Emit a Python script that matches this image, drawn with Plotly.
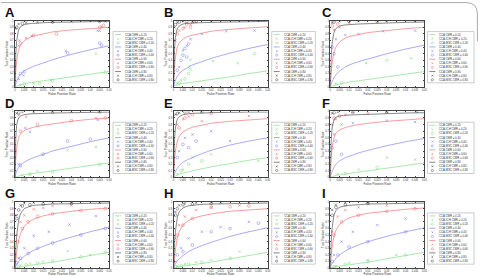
import plotly.graph_objects as go

W, H = 481, 276

# ---------------- data ----------------
FPR_GRID = [0, 0.0005, 0.001, 0.002, 0.003, 0.005, 0.0075, 0.01, 0.015, 0.02, 0.03, 0.04, 0.05]
CMR_LEVELS = ["0.20", "0.40", "0.60", "0.80"]
METHODS = ["CCA", "CCA-ICH", "CCA-MSC"]
PANEL_NAMES = ["A", "B", "C", "D", "E", "F", "G", "H", "I"]
X_TICKS = [0, 0.005, 0.01, 0.015, 0.02, 0.025, 0.03, 0.035, 0.04, 0.045, 0.05]
Y_TICKS = [0, 0.1, 0.2, 0.3, 0.4, 0.5, 0.6, 0.7, 0.8, 0.9, 1]

# CCA curves (TPR on FPR_GRID), rows: CMR 0.20, 0.40, 0.60, 0.80
A_CCA = [[0, 0.005, 0.01, 0.02, 0.03, 0.045, 0.06, 0.07, 0.09, 0.11, 0.15, 0.19, 0.23],
         [0, 0.05, 0.09, 0.15, 0.19, 0.24, 0.28, 0.31, 0.36, 0.41, 0.49, 0.56, 0.62],
         [0, 0.25, 0.40, 0.56, 0.63, 0.70, 0.74, 0.77, 0.80, 0.83, 0.86, 0.88, 0.90],
         [0, 0.50, 0.70, 0.86, 0.91, 0.94, 0.955, 0.96, 0.97, 0.975, 0.98, 0.985, 0.99]]
B_CCA = [[0, 0.01, 0.02, 0.03, 0.04, 0.05, 0.06, 0.07, 0.09, 0.11, 0.15, 0.20, 0.24],
         [0, 0.06, 0.10, 0.16, 0.20, 0.25, 0.29, 0.33, 0.38, 0.43, 0.51, 0.58, 0.64],
         [0, 0.30, 0.45, 0.60, 0.66, 0.72, 0.76, 0.78, 0.81, 0.84, 0.87, 0.89, 0.91],
         [0, 0.55, 0.75, 0.88, 0.92, 0.95, 0.96, 0.965, 0.97, 0.975, 0.98, 0.985, 0.99]]
C_CCA = [[0, 0.005, 0.01, 0.02, 0.03, 0.04, 0.055, 0.07, 0.09, 0.11, 0.15, 0.19, 0.23],
         [0, 0.04, 0.08, 0.14, 0.18, 0.24, 0.29, 0.33, 0.38, 0.42, 0.50, 0.57, 0.63],
         [0, 0.20, 0.35, 0.52, 0.60, 0.68, 0.73, 0.76, 0.79, 0.82, 0.85, 0.88, 0.90],
         [0, 0.45, 0.65, 0.82, 0.88, 0.92, 0.935, 0.94, 0.95, 0.955, 0.965, 0.975, 0.98]]
D_CCA = [[0, 0.005, 0.01, 0.02, 0.03, 0.04, 0.05, 0.06, 0.08, 0.10, 0.14, 0.18, 0.22],
         [0, 0.06, 0.10, 0.15, 0.19, 0.23, 0.27, 0.30, 0.35, 0.40, 0.47, 0.54, 0.60],
         [0, 0.30, 0.45, 0.60, 0.66, 0.71, 0.74, 0.76, 0.79, 0.81, 0.85, 0.88, 0.90],
         [0, 0.60, 0.80, 0.90, 0.93, 0.95, 0.96, 0.965, 0.97, 0.975, 0.98, 0.985, 0.99]]
E_CCA = [[0, 0.01, 0.02, 0.035, 0.05, 0.065, 0.08, 0.10, 0.13, 0.16, 0.21, 0.26, 0.30],
         [0, 0.05, 0.09, 0.14, 0.18, 0.23, 0.27, 0.30, 0.36, 0.41, 0.49, 0.55, 0.60],
         [0, 0.25, 0.40, 0.55, 0.62, 0.69, 0.73, 0.76, 0.79, 0.82, 0.85, 0.87, 0.89],
         [0, 0.55, 0.75, 0.88, 0.92, 0.95, 0.96, 0.97, 0.975, 0.98, 0.985, 0.99, 0.99]]
F_CCA = [[0, 0.005, 0.01, 0.02, 0.03, 0.04, 0.05, 0.06, 0.08, 0.10, 0.14, 0.18, 0.22],
         [0, 0.05, 0.09, 0.15, 0.20, 0.25, 0.29, 0.32, 0.37, 0.41, 0.48, 0.54, 0.59],
         [0, 0.30, 0.45, 0.60, 0.67, 0.72, 0.75, 0.77, 0.80, 0.82, 0.85, 0.87, 0.89],
         [0, 0.55, 0.75, 0.87, 0.91, 0.93, 0.94, 0.945, 0.95, 0.955, 0.965, 0.975, 0.98]]
G_CCA = [[0, 0.005, 0.01, 0.015, 0.02, 0.03, 0.04, 0.05, 0.07, 0.09, 0.14, 0.19, 0.24],
         [0, 0.03, 0.06, 0.10, 0.13, 0.18, 0.23, 0.27, 0.33, 0.38, 0.47, 0.55, 0.62],
         [0, 0.12, 0.25, 0.42, 0.52, 0.63, 0.70, 0.74, 0.79, 0.82, 0.86, 0.89, 0.91],
         [0, 0.30, 0.50, 0.72, 0.82, 0.90, 0.93, 0.95, 0.96, 0.97, 0.975, 0.98, 0.985]]
H_CCA = [[0, 0.004, 0.008, 0.014, 0.02, 0.03, 0.04, 0.05, 0.07, 0.09, 0.14, 0.19, 0.24],
         [0, 0.04, 0.07, 0.11, 0.14, 0.19, 0.24, 0.28, 0.34, 0.39, 0.48, 0.55, 0.61],
         [0, 0.15, 0.28, 0.45, 0.55, 0.65, 0.71, 0.75, 0.79, 0.82, 0.86, 0.88, 0.90],
         [0, 0.35, 0.55, 0.76, 0.85, 0.91, 0.94, 0.95, 0.965, 0.97, 0.975, 0.98, 0.985]]
I_CCA = [[0, 0.005, 0.01, 0.015, 0.02, 0.03, 0.04, 0.05, 0.07, 0.09, 0.14, 0.19, 0.24],
         [0, 0.04, 0.07, 0.11, 0.15, 0.20, 0.25, 0.29, 0.35, 0.40, 0.48, 0.55, 0.61],
         [0, 0.18, 0.32, 0.48, 0.57, 0.66, 0.72, 0.76, 0.80, 0.83, 0.86, 0.89, 0.91],
         [0, 0.40, 0.60, 0.80, 0.87, 0.92, 0.94, 0.95, 0.96, 0.97, 0.975, 0.98, 0.985]]

# CCA-ICH points (fpr, tpr) per CMR level
A_ICH = [[(0.003, 0.02), (0.01, 0.05), (0.019, 0.10), (0.043, 0.50)],
         [(0.002, 0.12), (0.0045, 0.17), (0.0025, 0.70), (0.009, 0.77), (0.027, 0.54), (0.044, 0.85)],
         [(0.002, 0.62), (0.006, 0.74), (0.045, 0.85), (0.046, 0.91)],
         [(0.0005, 0.88), (0.002, 0.95), (0.006, 0.97), (0.012, 0.98), (0.03, 0.99), (0.048, 0.99)]]
B_ICH = [[(0.002, 0.05), (0.004, 0.10), (0.0085, 0.31), (0.009, 0.41), (0.021, 0.39), (0.034, 0.36)],
         [(0.003, 0.30), (0.005, 0.55), (0.007, 0.62), (0.009, 0.72), (0.015, 0.80), (0.028, 0.84), (0.043, 0.85)],
         [(0.001, 0.70), (0.003, 0.85), (0.006, 0.90), (0.009, 0.94), (0.01, 0.97)],
         [(0.0005, 0.90), (0.002, 0.97), (0.005, 0.99), (0.01, 0.99), (0.02, 0.995)]]
C_ICH = [[(0.003, 0.05), (0.019, 0.36), (0.043, 0.43)],
         [(0.003, 0.72), (0.008, 0.78), (0.015, 0.80), (0.028, 0.84), (0.045, 0.85)],
         [(0.002, 0.86), (0.005, 0.90), (0.01, 0.97)],
         [(0.001, 0.97), (0.005, 0.99), (0.015, 0.995), (0.03, 0.995), (0.045, 0.995)]]
D_ICH = [[(0.004, 0.03), (0.012, 0.10), (0.028, 0.41), (0.043, 0.46)],
         [(0.002, 0.20), (0.0056, 0.75), (0.008, 0.69), (0.044, 0.87)],
         [(0.002, 0.94), (0.006, 0.92), (0.043, 0.90)],
         [(0.001, 0.97), (0.004, 0.99), (0.01, 0.99), (0.03, 0.995)]]
E_ICH = [[(0.002, 0.05), (0.005, 0.12), (0.01, 0.30), (0.02, 0.35), (0.045, 0.25)],
         [(0.003, 0.40), (0.006, 0.60), (0.01, 0.65), (0.02, 0.70), (0.03, 0.55)],
         [(0.002, 0.80), (0.005, 0.88), (0.008, 0.92), (0.015, 0.85), (0.04, 0.93)],
         [(0.001, 0.95), (0.003, 0.98), (0.008, 0.99), (0.02, 0.995)]]
F_ICH = [[(0.004, 0.05), (0.015, 0.12), (0.03, 0.30), (0.045, 0.27)],
         [(0.002, 0.65), (0.006, 0.80), (0.012, 0.82), (0.03, 0.86), (0.045, 0.84)],
         [(0.001, 0.80), (0.003, 0.88), (0.008, 0.95), (0.02, 0.97)],
         [(0.001, 0.97), (0.004, 0.99), (0.012, 0.995), (0.03, 0.995), (0.046, 0.995)]]
G_ICH = [[(0.003, 0.04), (0.008, 0.07), (0.015, 0.10), (0.028, 0.26), (0.04, 0.20)],
         [(0.002, 0.15), (0.005, 0.30), (0.01, 0.49), (0.018, 0.55), (0.029, 0.66), (0.043, 0.79)],
         [(0.001, 0.50), (0.003, 0.70), (0.005, 0.80), (0.01, 0.89), (0.015, 0.91), (0.02, 0.94), (0.03, 0.95)],
         [(0.001, 0.80), (0.003, 0.95), (0.005, 0.98), (0.01, 0.99), (0.02, 0.99), (0.03, 0.99), (0.045, 0.99)]]
H_ICH = [[(0.002, 0.03), (0.006, 0.06), (0.012, 0.09), (0.02, 0.12), (0.035, 0.25)],
         [(0.001, 0.10), (0.004, 0.30), (0.008, 0.45), (0.015, 0.55), (0.025, 0.62), (0.04, 0.70)],
         [(0.001, 0.45), (0.003, 0.65), (0.006, 0.78), (0.012, 0.88), (0.02, 0.92), (0.035, 0.95)],
         [(0.001, 0.85), (0.003, 0.95), (0.006, 0.98), (0.012, 0.99), (0.025, 0.99), (0.04, 0.99)]]
I_ICH = [[(0.003, 0.03), (0.01, 0.08), (0.02, 0.12), (0.035, 0.20)],
         [(0.002, 0.20), (0.006, 0.40), (0.012, 0.55), (0.025, 0.65), (0.04, 0.75)],
         [(0.001, 0.55), (0.004, 0.78), (0.008, 0.88), (0.015, 0.92), (0.03, 0.95)],
         [(0.001, 0.88), (0.003, 0.96), (0.008, 0.99), (0.02, 0.99), (0.04, 0.995)]]

# CCA-MSC points (fpr, tpr) per CMR level
A_MSC = [[(0.005, 0.04), (0.013, 0.05), (0.02, 0.09), (0.048, 0.22)],
         [(0.003, 0.20), (0.005, 0.23), (0.028, 0.51), (0.045, 0.66), (0.046, 0.63)],
         [(0.003, 0.66), (0.01, 0.78), (0.022, 0.80), (0.045, 0.90), (0.047, 0.93)],
         [(0.001, 0.90), (0.004, 0.96), (0.02, 0.98), (0.045, 0.99)]]
B_MSC = [[(0.003, 0.06), (0.006, 0.12), (0.008, 0.20), (0.009, 0.26), (0.043, 0.50)],
         [(0.002, 0.25), (0.004, 0.40), (0.005, 0.48), (0.006, 0.58), (0.007, 0.45), (0.008, 0.65)],
         [(0.002, 0.80), (0.005, 0.88), (0.007, 0.95), (0.009, 0.90), (0.011, 0.99)],
         [(0.001, 0.94), (0.003, 0.98), (0.007, 0.99), (0.012, 0.995)]]
C_MSC = [[(0.006, 0.06), (0.03, 0.40)],
         [(0.001, 0.60), (0.002, 0.50), (0.004, 0.30)],
         [(0.001, 0.92), (0.004, 0.95)],
         [(0.002, 0.98), (0.01, 0.99), (0.025, 0.99)]]
D_MSC = [[(0.008, 0.05), (0.02, 0.08), (0.045, 0.20)],
         [(0.003, 0.18), (0.015, 0.35), (0.028, 0.55), (0.04, 0.58)],
         [(0.003, 0.70), (0.012, 0.80), (0.03, 0.86), (0.048, 0.90)],
         [(0.002, 0.98), (0.02, 0.99), (0.045, 0.995)]]
E_MSC = [[(0.004, 0.10), (0.008, 0.20), (0.015, 0.25)],
         [(0.002, 0.30), (0.005, 0.50), (0.008, 0.45), (0.012, 0.55)],
         [(0.003, 0.75), (0.006, 0.90), (0.01, 0.95), (0.02, 0.97)],
         [(0.002, 0.97), (0.006, 0.99), (0.015, 0.995)]]
F_MSC = [[(0.008, 0.06), (0.025, 0.15)],
         [(0.001, 0.45), (0.003, 0.55), (0.006, 0.35)],
         [(0.002, 0.90), (0.005, 0.93)],
         [(0.002, 0.98), (0.012, 0.99), (0.03, 0.99)]]
G_MSC = [[(0.002, 0.02), (0.006, 0.05), (0.012, 0.08), (0.02, 0.11), (0.035, 0.17), (0.048, 0.24)],
         [(0.001, 0.08), (0.003, 0.15), (0.007, 0.22), (0.012, 0.30), (0.02, 0.38), (0.035, 0.50), (0.048, 0.60)],
         [(0.0015, 0.40), (0.004, 0.60), (0.007, 0.70), (0.012, 0.78), (0.02, 0.82), (0.035, 0.87), (0.048, 0.90)],
         [(0.001, 0.75), (0.002, 0.88), (0.004, 0.94), (0.008, 0.96), (0.015, 0.97), (0.03, 0.98)]]
H_MSC = [[(0.001, 0.02), (0.004, 0.04), (0.008, 0.06), (0.015, 0.09), (0.03, 0.15)],
         [(0.002, 0.20), (0.005, 0.25), (0.01, 0.35), (0.02, 0.55), (0.03, 0.60), (0.045, 0.68)],
         [(0.002, 0.50), (0.005, 0.65), (0.01, 0.75), (0.02, 0.92), (0.03, 0.93), (0.04, 0.94)],
         [(0.001, 0.80), (0.002, 0.90), (0.005, 0.96), (0.01, 0.97), (0.02, 0.98)]]
I_MSC = [[(0.002, 0.02), (0.008, 0.06), (0.02, 0.10), (0.04, 0.20)],
         [(0.001, 0.10), (0.004, 0.20), (0.01, 0.32), (0.02, 0.40), (0.04, 0.55)],
         [(0.002, 0.50), (0.006, 0.70), (0.015, 0.80), (0.03, 0.86), (0.045, 0.90)],
         [(0.001, 0.80), (0.003, 0.92), (0.008, 0.96), (0.02, 0.98)]]

PANELS = [(A_CCA, A_ICH, A_MSC), (B_CCA, B_ICH, B_MSC), (C_CCA, C_ICH, C_MSC),
          (D_CCA, D_ICH, D_MSC), (E_CCA, E_ICH, E_MSC), (F_CCA, F_ICH, F_MSC),
          (G_CCA, G_ICH, G_MSC), (H_CCA, H_ICH, H_MSC), (I_CCA, I_ICH, I_MSC)]

# ---------------- styles ----------------
COLORS = ["#6fd86f", "#7070ee", "#ee5a5a", "#333333"]
FONT = "Liberation Sans, Arial, sans-serif"


def fx(px):
    return px / W


def fy(px):
    return 1 - px / H


fig = go.Figure()
shapes = []
annotations = []
layout = {}

for p in range(9):
    r, c = divmod(p, 3)
    ox, oy = c * 160, r * 92
    left = ox + (12 if c == 2 else 14)
    right = ox + (107 if c == 2 else 109)
    top, bot = oy + 19, oy + 86
    sfx = "" if p == 0 else str(p + 1)
    cca, ich, msc = PANELS[p]
    for k in range(4):
        col = COLORS[k]
        fig.add_trace(go.Scatter(
            x=FPR_GRID, y=cca[k], mode="lines",
            line=dict(color=col, width=0.6, shape="spline", smoothing=0.5),
            xaxis="x" + sfx, yaxis="y" + sfx, showlegend=False, hoverinfo="skip"))
        fig.add_trace(go.Scatter(
            x=[q[0] for q in ich[k]], y=[q[1] for q in ich[k]], mode="markers",
            marker=dict(symbol="x-thin-open", size=2.4, color=col, line=dict(color=col, width=0.5)),
            xaxis="x" + sfx, yaxis="y" + sfx, showlegend=False, hoverinfo="skip"))
        fig.add_trace(go.Scatter(
            x=[q[0] for q in msc[k]], y=[q[1] for q in msc[k]], mode="markers",
            marker=dict(symbol="circle-open", size=2.8, color=col, line=dict(color=col, width=0.45)),
            xaxis="x" + sfx, yaxis="y" + sfx, showlegend=False, hoverinfo="skip"))

    axcommon = dict(showline=True, linecolor="#444", linewidth=0.6, mirror="ticks",
                    ticks="inside", ticklen=1.2, tickwidth=0.4, tickcolor="#444",
                    showgrid=False, zeroline=False,
                    tickfont=dict(size=2.6, family=FONT, color="#333"))
    layout["xaxis" + sfx] = dict(axcommon, domain=[fx(left), fx(right)], range=[0, 0.05],
                                 tickvals=X_TICKS, ticktext=[f"{v:g}" for v in X_TICKS],
                                 anchor="y" + sfx,
                                 title=dict(text="False Positive Rate", standoff=1,
                                            font=dict(size=3.2, family=FONT, color="#333")))
    layout["yaxis" + sfx] = dict(axcommon, domain=[fy(bot), fy(top)], range=[0, 1],
                                 tickvals=Y_TICKS, ticktext=[f"{v:g}" for v in Y_TICKS],
                                 anchor="x" + sfx,
                                 title=dict(text="True Positive Rate", standoff=1,
                                            font=dict(size=3.2, family=FONT, color="#333")))

    # panel letter
    annotations.append(dict(text="<b>%s</b>" % PANEL_NAMES[p], x=fx(ox + 2), y=fy(oy + 1),
                            xref="paper", yref="paper", xanchor="left", yanchor="top",
                            showarrow=False, font=dict(size=13, family=FONT, color="#111")))

    # manual legend
    lx0 = ox + (110 if c == 2 else 113)
    lx1 = ox + 157
    ly0, ly1 = oy + 30, oy + 82
    shapes.append(dict(type="rect", xref="paper", yref="paper",
                       x0=fx(lx0), x1=fx(lx1), y0=fy(ly1), y1=fy(ly0),
                       line=dict(color="#999", width=0.5), fillcolor="white", layer="above"))
    step = (ly1 - ly0 - 2) / 12
    i = 0
    for k in range(4):
        col = COLORS[k]
        for m in range(3):
            cy = ly0 + 1 + step * (i + 0.5)
            sx0, sx1 = lx0 + 2, lx0 + 8
            cx = (sx0 + sx1) / 2
            if m == 0:
                shapes.append(dict(type="line", xref="paper", yref="paper",
                                   x0=fx(sx0), x1=fx(sx1), y0=fy(cy), y1=fy(cy),
                                   line=dict(color=col, width=0.6), layer="above"))
            elif m == 1:
                d = 0.9
                shapes.append(dict(type="line", xref="paper", yref="paper",
                                   x0=fx(cx - d), x1=fx(cx + d), y0=fy(cy - d), y1=fy(cy + d),
                                   line=dict(color=col, width=0.5), layer="above"))
                shapes.append(dict(type="line", xref="paper", yref="paper",
                                   x0=fx(cx - d), x1=fx(cx + d), y0=fy(cy + d), y1=fy(cy - d),
                                   line=dict(color=col, width=0.5), layer="above"))
            else:
                d = 1.1
                shapes.append(dict(type="circle", xref="paper", yref="paper",
                                   x0=fx(cx - d), x1=fx(cx + d), y0=fy(cy + d), y1=fy(cy - d),
                                   line=dict(color=col, width=0.45), layer="above"))
            annotations.append(dict(text="%s CMR = %s" % (METHODS[m], CMR_LEVELS[k]),
                                    x=fx(lx0 + 10), y=fy(cy), xref="paper", yref="paper",
                                    xanchor="left", yanchor="middle", showarrow=False,
                                    font=dict(size=2.8, family=FONT, color="#333")))
            i += 1

# thin grey frame at top / right corner
shapes.append(dict(type="path", xref="paper", yref="paper",
                   path="M 0,%f L %f,%f Q %f,%f %f,%f L %f,%f" % (
                       fy(0.6), fx(469), fy(0.6), fx(480.4), fy(0.6), fx(480.4), fy(12),
                       fx(480.4), fy(40)),
                   line=dict(color="#aaa", width=1)))

fig.update_layout(width=W, height=H, margin=dict(l=0, r=0, t=0, b=0),
                  paper_bgcolor="white", plot_bgcolor="white",
                  shapes=shapes, annotations=annotations, **layout)

fig.write_html("out.html")
